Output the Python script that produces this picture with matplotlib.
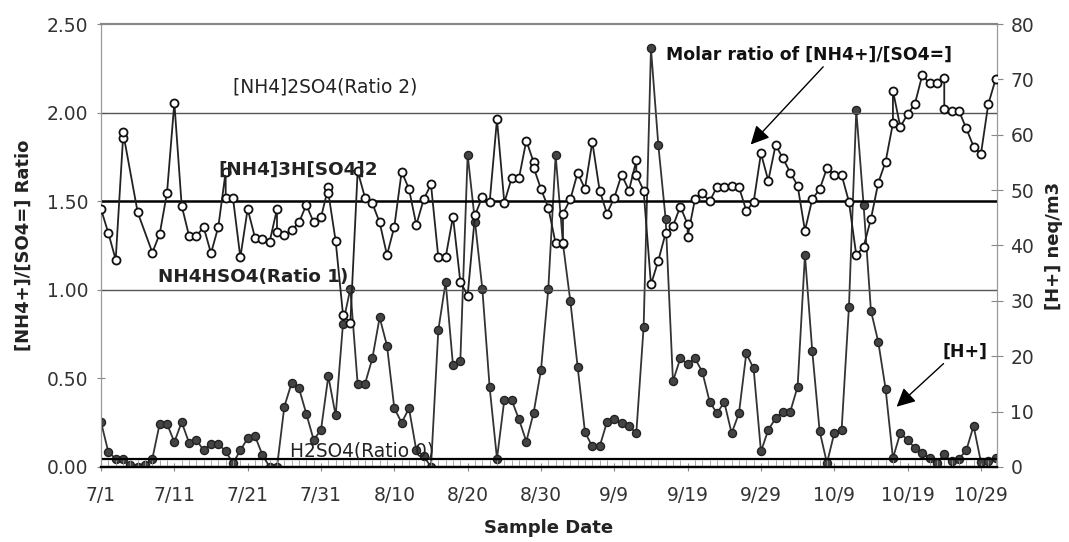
import numpy as np
import pandas as pd
import matplotlib
matplotlib.use("Agg")
import matplotlib.pyplot as plt
import matplotlib.ticker as mticker

plt.rcParams['font.family'] = ['DejaVu Sans']

# sampling start; x positions are day offsets from this date
start = pd.Timestamp('2000-07-01')

# [NH4+]/[SO4=] molar ratio (open circles), some days have two samples
ratio_day = [0, 1, 2, 3, 3, 5, 7, 8, 9, 10, 11, 12, 13, 14, 15, 16, 17, 17, 18, 19,
             20, 21, 22, 23, 24, 24, 25, 26, 27, 28, 29, 30, 31, 31, 32, 33, 34, 35, 36, 37,
             38, 39, 40, 41, 42, 43, 44, 45, 46, 47, 48, 49, 50, 51, 52, 53, 54, 55, 56, 57,
             58, 59, 59, 60, 61, 62, 63, 63, 64, 65, 66, 67, 68, 69, 70, 71, 72, 73, 73, 74,
             75, 76, 77, 78, 79, 80, 80, 81, 82, 83, 84, 85, 86, 87, 88, 89, 90, 91, 92, 93,
             94, 95, 96, 97, 98, 99, 100, 101, 102, 103, 104, 105, 106, 107, 108, 108, 109, 110, 111, 112,
             113, 114, 115, 115, 116, 117, 118, 119, 120, 121, 122]
ratio = [1.455, 1.32, 1.17, 1.855, 1.89, 1.437, 1.21, 1.315, 1.548, 2.056, 1.475, 1.305, 1.305, 1.353, 1.206, 1.356, 1.667, 1.516, 1.516, 1.183,
         1.456, 1.294, 1.287, 1.272, 1.456, 1.328, 1.309, 1.337, 1.381, 1.479, 1.381, 1.409, 1.578, 1.548, 1.275, 0.86, 0.81, 1.67, 1.52, 1.488,
         1.38, 1.196, 1.356, 1.667, 1.569, 1.366, 1.51, 1.595, 1.183, 1.183, 1.413, 1.046, 0.967, 1.42, 1.525, 1.494, 1.962, 1.492, 1.63, 1.63,
         1.842, 1.72, 1.69, 1.569, 1.463, 1.262, 1.262, 1.43, 1.51, 1.66, 1.57, 1.835, 1.56, 1.43, 1.52, 1.65, 1.56, 1.73, 1.65, 1.56,
         1.03, 1.164, 1.32, 1.36, 1.47, 1.37, 1.30, 1.51, 1.545, 1.50, 1.58, 1.58, 1.585, 1.58, 1.447, 1.494, 1.77, 1.616, 1.817, 1.742,
         1.661, 1.588, 1.334, 1.512, 1.567, 1.686, 1.648, 1.648, 1.497, 1.196, 1.243, 1.40, 1.604, 1.723, 1.94, 2.124, 1.92, 1.99, 2.05, 2.212,
         2.165, 2.165, 2.197, 2.018, 2.009, 2.01, 1.911, 1.808, 1.766, 2.047, 2.188]

# [H+] neq/m3 (filled circles), one sample per day from 7/1
h_plus = [8.1, 2.7, 1.5, 1.4, 0.3, 0.0, 0.3, 1.5, 7.8, 7.8, 4.5, 8.1, 4.4, 4.9, 3.0, 4.2, 4.2, 2.8, 0.7, 3.0,
          5.2, 5.6, 2.2, 0.0, 0.0, 10.9, 15.2, 14.2, 9.6, 4.9, 6.7, 16.4, 9.3, 25.9, 32.2, 15.0, 15.0, 19.6, 27.0, 21.9,
          10.6, 8.0, 10.6, 3.0, 2.0, 0.0, 24.7, 33.4, 18.4, 19.1, 56.4, 44.3, 32.2, 14.4, 1.5, 12.1, 12.1, 8.6, 4.6, 9.8,
          17.5, 32.2, 56.3, 40.3, 30.0, 18.1, 6.3, 3.7, 3.7, 8.1, 8.6, 7.9, 7.4, 6.1, 25.3, 75.6, 58.2, 44.8, 15.5, 19.6,
          18.6, 19.6, 17.2, 11.8, 9.7, 11.7, 6.1, 9.7, 20.5, 17.8, 2.8, 6.7, 8.8, 10.0, 10.0, 14.5, 38.3, 20.9, 6.5, 0.7,
          6.1, 6.7, 28.9, 64.4, 47.3, 28.2, 22.6, 14.1, 1.6, 6.1, 4.9, 3.4, 2.5, 1.6, 0.7, 2.3, 1.0, 1.5, 3.0, 7.4,
          0.9, 1.0, 1.7]

# reference ratios
ref_ratios = [2.0, 1.5, 1.0, 0.045]
ref_labels = ["[NH4]2SO4(Ratio 2)", "[NH4]3H[SO4]2", "NH4HSO4(Ratio 1)", "H2SO4(Ratio 0)"]

ratio_dates = start + pd.to_timedelta(ratio_day, unit='D')
h_dates = pd.date_range(start, periods=len(h_plus), freq='D')

fig = plt.figure(figsize=(10.69, 5.42), dpi=100)
ax = fig.add_axes([0.0945, 0.1384, 0.8382, 0.8173])
ax2 = ax.twinx()

# reference lines
ax.axhline(ref_ratios[0], color='#555555', lw=1.0)
ax.axhline(ref_ratios[1], color='black', lw=1.8)
ax.axhline(ref_ratios[2], color='#555555', lw=1.0)
ax.axhline(ref_ratios[3], color='black', lw=1.6)

ax.plot(ratio_dates, ratio, '-o', color='#222222', lw=1.3, ms=5.8,
        mfc='white', mec='#111111', mew=1.3, zorder=3)
ax2.plot(h_dates, h_plus, '-o', color='#333333', lw=1.3, ms=5.8,
         mfc='#444444', mec='#222222', mew=1.0, zorder=3)

x0 = start
x1 = start + pd.Timedelta(days=122.2)
ax.set_xlim(x0, x1)
ax.set_ylim(0, 2.5)
ax2.set_ylim(0, 80)

ax.set_yticks(np.arange(0, 2.51, 0.5))
ax.yaxis.set_major_formatter(mticker.FormatStrFormatter('%.2f'))
ax2.set_yticks(np.arange(0, 81, 10))

tick_dates = pd.date_range(start, periods=13, freq='10D')
ax.set_xticks(tick_dates)
ax.set_xticklabels([f"{d.month}/{d.day}" for d in tick_dates])
ax.set_xticks(pd.date_range(start, periods=123, freq='D'), minor=True)

ax.tick_params(axis='x', which='major', direction='inout', length=6, color='#888888',
               labelsize=13.5, pad=11, labelcolor='#333333')
ax.tick_params(axis='x', which='minor', direction='in', length=5, color='#999999')
ax.tick_params(axis='y', direction='inout', length=6, color='#888888', labelsize=13.5,
               pad=6, labelcolor='#333333')
ax2.tick_params(axis='y', direction='inout', length=9, color='#888888', labelsize=13.5,
                pad=5, labelcolor='#333333')

for a in (ax, ax2):
    a.spines['top'].set_color('#888888')
    a.spines['top'].set_linewidth(1.5)
    a.spines['left'].set_color('#999999')
    a.spines['right'].set_color('#999999')
    a.spines['bottom'].set_color('black')
    a.spines['bottom'].set_linewidth(1.6)

ax.set_ylabel("[NH4+]/[SO4=] Ratio", fontsize=13, fontweight='bold', labelpad=10, color='#222222')
ax2.set_ylabel("[H+] neq/m3", fontsize=13, fontweight='bold', labelpad=8, color='#222222')
ax.set_xlabel("Sample Date", fontsize=13, fontweight='bold', labelpad=10, color='#222222')


def day(d):
    return start + pd.Timedelta(days=d)


ax.text(day(18.0), 2.145, ref_labels[0], fontsize=13.4, va='center', color='#222222')
ax.text(day(16.0), 1.676, ref_labels[1], fontsize=13.2, va='center', fontweight='bold', color='#222222')
ax.text(day(7.8), 1.07, ref_labels[2], fontsize=13.2, va='center', fontweight='bold', color='#222222')
ax.text(day(25.8), 0.09, ref_labels[3], fontsize=13.4, va='center', color='#222222')

ax.annotate("Molar ratio of [NH4+]/[SO4=]", xy=(day(88.6), 1.82), xytext=(day(77.0), 2.325),
            fontsize=12.4, fontweight='bold', va='center', color='#111111', zorder=6,
            arrowprops=dict(arrowstyle='-|>', color='black', lw=1.0, mutation_scale=28,
                            shrinkA=0, shrinkB=0,
                            relpos=(0.56, 0.0)))
ax.annotate("[H+]", xy=(day(108.5), 0.34), xytext=(day(114.7), 0.65),
            fontsize=12.5, fontweight='bold', va='center', color='#111111', zorder=6,
            arrowprops=dict(arrowstyle='-|>', color='black', lw=1.0, mutation_scale=28,
                            shrinkA=0, shrinkB=0, relpos=(0.1, 0.0)))

ax.set_zorder(ax2.get_zorder() + 1)
ax.patch.set_visible(False)

fig.savefig("out.png", dpi=100)
